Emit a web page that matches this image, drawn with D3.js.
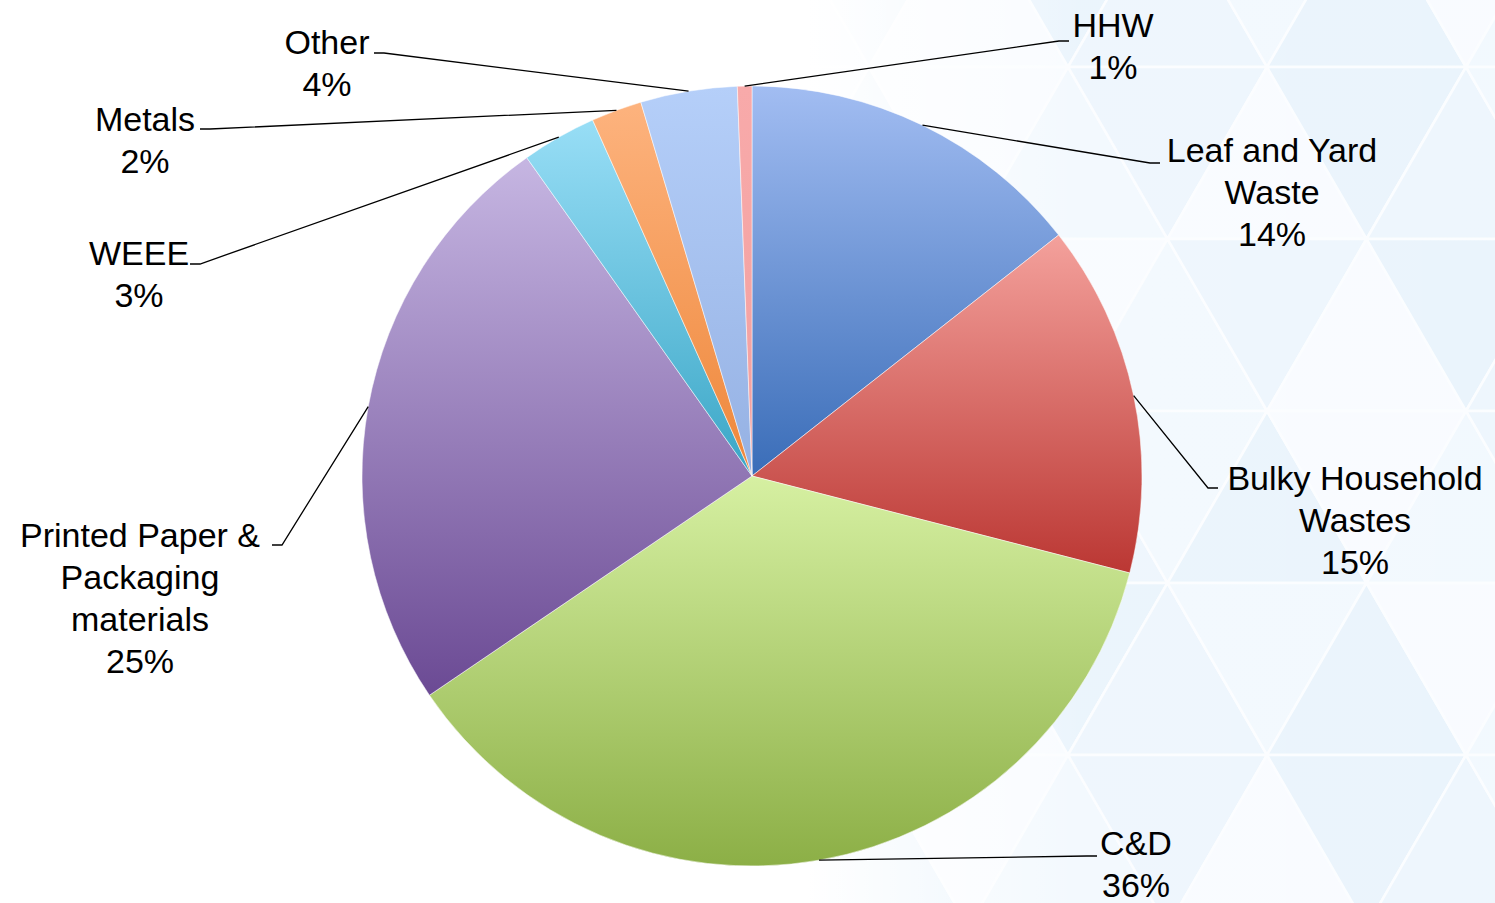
<!DOCTYPE html>
<html>
<head>
	<meta charset="utf-8">
	<title>Waste composition</title>
	<script src="https://cdn.jsdelivr.net/npm/d3@7"></script>
	<style>
		body { margin: 0; background: #fff; }
		text { font-family: "Liberation Sans", Arial, sans-serif; font-size: 34px; fill: #000; }
	</style>
</head>
<body>
<script>
// data, clockwise from 12 o'clock
var categories = ["Leaf and Yard Waste", "Bulky Household Wastes", "C&D", "Printed Paper & Packaging materials", "WEEE", "Metals", "Other", "HHW"];
var values = [14.4, 14.6, 36.5, 24.7, 3.1, 2.1, 4.0, 0.6];
var pctLabels = ["14%", "15%", "36%", "25%", "3%", "2%", "4%", "1%"];
// label text split into lines
var labelLines = [["Leaf and Yard", "Waste"], ["Bulky Household", "Wastes"], ["C&D"], ["Printed Paper &", "Packaging", "materials"], ["WEEE"], ["Metals"], ["Other"], ["HHW"]];
var topColors = ["#a2bdf2", "#f4a19c", "#d6f0a2", "#c6b6e2", "#98def6", "#fdb37e", "#b5cff9", "#f8aaaa"];
var bottomColors = ["#3a6db8", "#bb3733", "#8caf46", "#6b4a94", "#3aa6c6", "#ee873a", "#95b1e3", "#f2a0a0"];

// where each label goes (elbow end, text centre)
var labelPos = [
	{ex: 1160, ey: 163, tx: 1272, ty: 150},
	{ex: 1218, ey: 488, tx: 1355, ty: 478},
	{ex: 1097, ey: 856, tx: 1136, ty: 843},
	{ex: 272, ey: 545, tx: 140, ty: 535},
	{ex: 190, ey: 264, tx: 139, ty: 253},
	{ex: 200, ey: 129, tx: 145, ty: 119},
	{ex: 374, ey: 53, tx: 327, ty: 42},
	{ex: 1069, ey: 41, tx: 1113, ty: 25}
];

var width = 1495, height = 903;
var cx = 752, cy = 476, radius = 390;
var lineH = 42;

var svg = d3.select("body").append("svg")
	.attr("width", width)
	.attr("height", height);

var defs = svg.append("defs");

// background triangle pattern
var bg = svg.append("g");
var triH = 172, triW = 199;
var rowY0 = 67 - triH, colX0 = 1267 - triW * 4;
var shades = ["#e8f3fc", "#f1f8fe", "#f8fbff", "#ecf5fd"];
d3.range(0, 7).forEach(function(r) {
	var y1 = rowY0 + r * triH, y2 = y1 + triH;
	var off = (r % 2) * triW / 2;
	d3.range(0, 8).forEach(function(c) {
		var x = colX0 + c * triW + off;
		bg.append("path")
			.attr("d", "M" + x + "," + y2 + "L" + (x + triW / 2) + "," + y1 + "L" + (x + triW) + "," + y2 + "Z")
			.attr("fill", shades[(r * 3 + c) % 4])
			.attr("stroke", "#fbfdff").attr("stroke-width", 2.5);
		bg.append("path")
			.attr("d", "M" + (x + triW / 2) + "," + y1 + "L" + (x + triW) + "," + y2 + "L" + (x + triW * 1.5) + "," + y1 + "Z")
			.attr("fill", shades[(r * 3 + c + 2) % 4])
			.attr("stroke", "#fbfdff").attr("stroke-width", 2.5);
	});
});
var fade = defs.append("linearGradient").attr("id", "fade")
	.attr("x1", 0).attr("x2", 1).attr("y1", 0).attr("y2", 0);
fade.append("stop").attr("offset", 0).attr("stop-color", "#fff").attr("stop-opacity", 1);
fade.append("stop").attr("offset", 0.54).attr("stop-color", "#fff").attr("stop-opacity", 1);
fade.append("stop").attr("offset", 0.72).attr("stop-color", "#fff").attr("stop-opacity", 0.15);
fade.append("stop").attr("offset", 1).attr("stop-color", "#fff").attr("stop-opacity", 0.1);
svg.append("rect").attr("width", width).attr("height", height).attr("fill", "url(#fade)");

// slice gradients
categories.forEach(function(c, i) {
	var g = defs.append("linearGradient").attr("id", "grad" + i)
		.attr("x1", 0).attr("x2", 0).attr("y1", 0).attr("y2", 1);
	g.append("stop").attr("offset", 0).attr("stop-color", topColors[i]);
	g.append("stop").attr("offset", 1).attr("stop-color", bottomColors[i]);
});

var pie = d3.pie().sort(null).value(function(d) { return d; });
var arcs = pie(values);
var arc = d3.arc().innerRadius(0).outerRadius(radius);

var chart = svg.append("g").attr("transform", "translate(" + cx + "," + cy + ")");

chart.selectAll("path.slice")
	.data(arcs)
	.enter()
	.append("path")
	.attr("class", "slice")
	.attr("d", arc)
	.attr("fill", function(d, i) { return "url(#grad" + i + ")"; })
	.attr("stroke", "rgba(255,255,255,0.5)")
	.attr("stroke-width", 1);

// leader lines
svg.selectAll("polyline.leader")
	.data(arcs)
	.enter()
	.append("polyline")
	.attr("class", "leader")
	.attr("fill", "none")
	.attr("stroke", "#000")
	.attr("stroke-width", 1.3)
	.attr("points", function(d, i) {
		var a = (d.startAngle + d.endAngle) / 2;
		var sx = cx + Math.sin(a) * radius, sy = cy - Math.cos(a) * radius;
		var p = labelPos[i];
		var elbowX = p.tx < cx ? p.ex + 10 : p.ex - 10;
		return [[sx, sy], [elbowX, p.ey], [p.ex, p.ey]].join(" ");
	});

// labels
var labels = svg.selectAll("text.lbl")
	.data(arcs)
	.enter()
	.append("text")
	.attr("class", "lbl")
	.attr("text-anchor", "middle")
	.attr("dominant-baseline", "central");

labels.each(function(d, i) {
	var t = d3.select(this);
	var lines = labelLines[i].concat([pctLabels[i]]);
	lines.forEach(function(s, k) {
		t.append("tspan")
			.attr("x", labelPos[i].tx)
			.attr("y", labelPos[i].ty + k * lineH)
			.text(s);
	});
});
</script>
</body>
</html>
